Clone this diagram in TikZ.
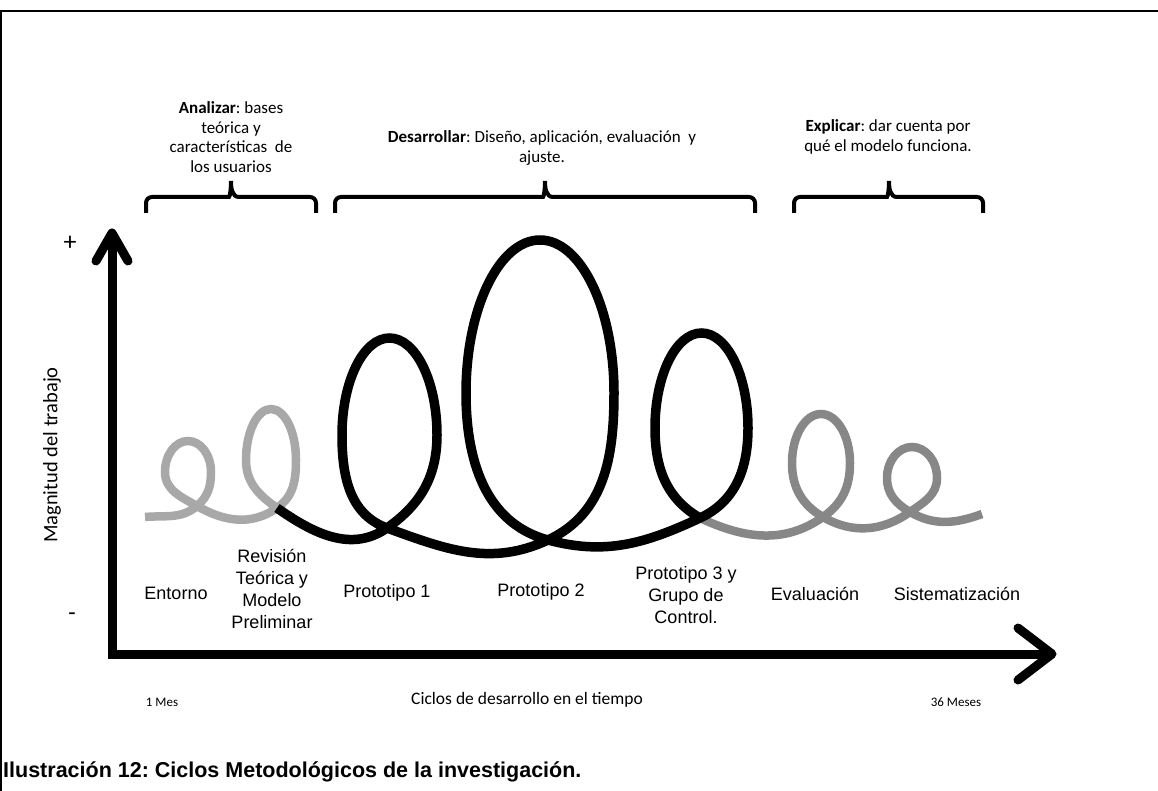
\documentclass[tikz,border=0pt]{standalone}
\usepackage{fontspec}
\setmainfont{Carlito}
\newfontfamily\arialfont{Liberation Sans}
\usetikzlibrary{calc}
\definecolor{lightloop}{HTML}{A8A8A8}
\definecolor{midloop}{HTML}{878787}
\frenchspacing

\begin{document}
\begin{tikzpicture}[x=1pt, y=1pt,
	axis/.style={line width=9pt, line cap=round, line join=round},
	brace/.style={line width=4pt, rounded corners=6pt},
	loopline/.style={line width=9.5pt},
	stage/.style={font=\arialfont\fontsize{18}{22}\selectfont, align=center, inner sep=0pt},
	phase/.style={font=\fontsize{17}{19.5}\selectfont, align=center, inner sep=0pt}]
	\useasboundingbox (0,0) rectangle (1158,-791);
	\draw[line width=2pt] (1,-791) -- (1,-11) -- (1158,-11);

	\coordinate (origin) at (112,-654);
	\coordinate (ytip) at (112,-233);
	\coordinate (xtip) at (1052,-654);
	\draw[axis, line join=miter, line cap=butt] (ytip) -- (origin) -- (xtip);
	\draw[axis] ($(ytip)+(-16,-28)$) -- (ytip) -- ($(ytip)+(16,-28)$);
	\draw[axis] ($(xtip)+(-34,26)$) -- (xtip) -- ($(xtip)+(-34,-26)$);

	\node[font=\fontsize{26}{26}\selectfont] (plus) at (70,-243) {+};
	\node[font=\fontsize{24}{24}\selectfont] (minus) at (72,-617) {-};
	\node[rotate=90, font=\fontsize{20.5}{20.5}\selectfont] (ylabel) at (52,-455) {Magnitud del trabajo};
	\node[font=\fontsize{13}{13}\selectfont] (mes1) at (162,-702) {1 Mes};
	\node[font=\fontsize{17.5}{17.5}\selectfont] (xlabel) at (527,-700) {Ciclos de desarrollo en el tiempo};
	\node[font=\fontsize{13}{13}\selectfont] (mes36) at (956,-702) {36 Meses};

	\node[phase] (analizar) at (231,-137) {\textbf{Analizar}: bases\\teórica y\\características~ de\\los usuarios};
	\node[phase] (desarrollar) at (542,-148) {\textbf{Desarrollar}: Diseño, aplicación, evaluación~ y\\ajuste.};
	\node[phase] (explicar) at (888,-137) {\textbf{Explicar}: dar cuenta por\\qué el modelo funciona.};

	\draw[brace] (146,-213) |- (223,-197) [sharp corners] to[out=0,in=-90] (231,-181) to[out=-90,in=180] (239,-197) [rounded corners=6pt] -| (316,-213);
	\draw[brace] (335,-213) |- (537,-197) [sharp corners] to[out=0,in=-90] (545,-181) to[out=-90,in=180] (553,-197) [rounded corners=6pt] -| (755,-213);
	\draw[brace] (794,-213) |- (881,-197) [sharp corners] to[out=0,in=-90] (889,-181) to[out=-90,in=180] (897,-197) [rounded corners=6pt] -| (983,-213);

	\draw[loopline, lightloop, line width=8.5pt] (145,-517) to[out=5,in=220] (197,-506)
		to[out=40,in=-90] (211,-472) arc[start angle=0, end angle=180, x radius=23, y radius=31] to[out=-90,in=150] (197,-506)
		to[out=-30,in=215] (277,-508)
		to[out=35,in=-90] (296,-460) arc[start angle=0, end angle=180, x radius=25, y radius=51] to[out=-90,in=145] (277,-508);
	\draw[loopline, midloop, line width=8.5pt] (700,-518) to[out=-25,in=215] (823,-517)
		to[out=35,in=-90] (850,-463) arc[start angle=0, end angle=180, x radius=29, y radius=49] to[out=-90,in=150] (823,-517)
		to[out=-30,in=215] (910,-512)
		to[out=35,in=-90] (937,-478) arc[start angle=0, end angle=180, x radius=25, y radius=31] to[out=-90,in=150] (910,-512)
		to[out=-30,in=200] (982,-514);
	\draw[loopline] (277,-508) to[out=-35,in=215] (387,-528)
		to[out=35,in=-90] (437,-435) arc[start angle=0, end angle=180, x radius=47.5, y radius=97] to[out=-90,in=160] (387,-528)
		to[out=-20,in=205] (548,-540)
		to[out=25,in=-90] (614,-393) arc[start angle=0, end angle=180, x radius=74, y radius=153] to[out=-90,in=165] (548,-540)
		to[out=-15,in=205] (700,-518)
		to[out=25,in=-90] (748,-428) arc[start angle=0, end angle=180, x radius=46.5, y radius=95] to[out=-90,in=150] (700,-518);

	\node[stage] (entorno) at (176,-593) {Entorno};
	\node[stage] (revision) at (272,-589) {Revisión\\Teórica y\\Modelo\\Preliminar};
	\node[stage] (proto1) at (387,-593) {Prototipo 1};
	\node[stage] (proto2) at (541,-592) {Prototipo 2};
	\node[stage] (proto3) at (686,-595) {Prototipo 3 y\\Grupo de\\Control.};
	\node[stage] (evaluacion) at (815,-594) {Evaluación};
	\node[stage] (sistematizacion) at (957,-594) {Sistematización};

	\node[anchor=base west, inner sep=0pt, font=\arialfont\bfseries\fontsize{21.5}{22}\selectfont] (caption) at (3,-777) {Ilustración 12: Ciclos Metodológicos de la investigación.};
\end{tikzpicture}
\end{document}
